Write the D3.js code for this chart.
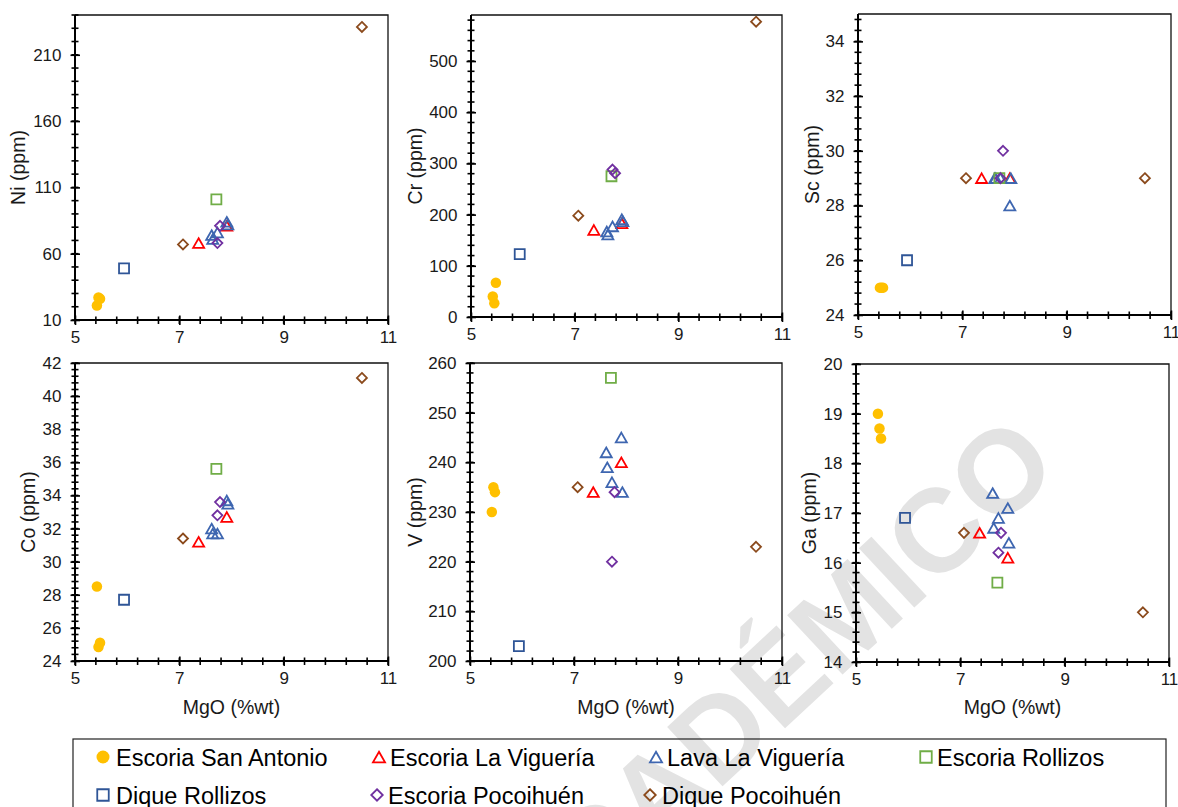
<!DOCTYPE html>
<html lang="es">
<head>
<meta charset="utf-8">
<title>MgO vs elementos traza</title>
<script src="https://cdn.jsdelivr.net/npm/d3@7"></script>
<style>
  body { margin: 0; background: #fff; }
  svg { display: block; }
  text { font-family: "Liberation Sans", Arial, sans-serif; fill: #1a1a1a; }
</style>
</head>
<body>
<svg id="chart" width="1178" height="807"></svg>
<script>
// groups (legend order = drawing order)
var groups = ["Escoria San Antonio", "Escoria La Viguería", "Lava La Viguería", "Escoria Rollizos",
              "Dique Rollizos", "Escoria Pocoihuén", "Dique Pocoihuén"];

// one entry per sample
var sampleGroup = [0, 0, 0, 1, 1, 2, 2, 2, 2, 2, 3, 4, 5, 5, 6, 6];
var mgo = [5.42, 5.45, 5.48, 7.37, 7.91, 7.62, 7.64, 7.73, 7.91, 7.93, 7.71, 5.94, 7.73, 7.78, 7.07, 10.5];
var ni  = [21, 27, 26, 68, 81, 74, 71, 76, 84, 82, 101, 49, 68, 81, 67, 231];
var cr  = [40, 27, 67, 170, 183, 167, 161, 177, 191, 187, 275, 123, 288, 281, 198, 577];
var sc  = [25, 25, 25, 29, 29, 29, 29, 29, 28, 29, 29, 26, 29, 30, 29, 29];
var co  = [28.5, 24.85, 25.1, 31.2, 32.7, 32.0, 31.7, 31.7, 33.7, 33.5, 35.6, 27.7, 32.8, 33.6, 31.4, 41.1];
var v   = [230, 235, 234, 234, 240, 242, 239, 236, 245, 234, 257, 203, 220, 234, 235, 223];
var ga  = [19.0, 18.7, 18.5, 16.6, 16.1, 17.4, 16.7, 16.9, 17.1, 16.4, 15.6, 16.9, 16.2, 16.6, 16.6, 15.0];

// tick labels
var xTicks  = [5, 7, 9, 11];
var niTicks = [10, 60, 110, 160, 210];
var crTicks = [0, 100, 200, 300, 400, 500];
var scTicks = [24, 26, 28, 30, 32, 34];
var coTicks = [24, 26, 28, 30, 32, 34, 36, 38, 40, 42];
var vTicks  = [200, 210, 220, 230, 240, 250, 260];
var gaTicks = [14, 15, 16, 17, 18, 19, 20];

var colors = ["#FFC000", "#FF0000", "#3E66B0", "#70AD47", "#2F5597", "#7030A0", "#8B4A1C"];
var shapes = ["circle", "triangle", "triangle", "square", "square", "diamond", "diamond"];

var panels = [
  {vals: ni, label: "Ni (ppm)", dom: [10, 240], ticks: niTicks, minor: 10,  box: [75, 388, 15, 320],  tx: 18},
  {vals: cr, label: "Cr (ppm)", dom: [0, 590],  ticks: crTicks, minor: 20,  box: [471, 782, 15, 317], tx: 415},
  {vals: sc, label: "Sc (ppm)", dom: [24, 35],  ticks: scTicks, minor: 0.4, box: [858, 1171, 14, 315], tx: 812},
  {vals: co, label: "Co (ppm)", dom: [24, 42],  ticks: coTicks, minor: 0.4, box: [75, 388, 363, 661], tx: 28},
  {vals: v,  label: "V (ppm)",  dom: [200, 260], ticks: vTicks, minor: 2,   box: [470, 782, 363, 661], tx: 415},
  {vals: ga, label: "Ga (ppm)", dom: [14, 20],  ticks: gaTicks, minor: 0.2, box: [856, 1169, 364, 662], tx: 809}
];

var svg = d3.select("#chart");
var fmt = d3.format("~g");

// watermark behind everything
svg.append("text")
    .attr("transform", "translate(768,688) rotate(-43)")
    .attr("text-anchor", "middle")
    .attr("dominant-baseline", "central")
    .attr("font-weight", "bold")
    .attr("font-size", 118)
    .style("fill", "#e3e3e3")
    .text("ACADÉMICO");

function minorValues(dom, step) {
    var out = [];
    for (var k = 0; dom[0] + k * step <= dom[1] + 1e-9; k++) {
        out.push(Math.round((dom[0] + k * step) * 1000) / 1000);
    }
    return out;
}

function drawMarker(sel, shape, color, s) {
    if (shape === "circle") {
        sel.append("circle").attr("r", s * 0.5).attr("fill", color);
        return;
    }
    var p = d3.path(), h = s / 2;
    if (shape === "triangle") {
        p.moveTo(0, -h * 0.92); p.lineTo(h * 1.05, h * 0.92); p.lineTo(-h * 1.05, h * 0.92); p.closePath();
    } else if (shape === "square") {
        p.rect(-h, -h, s, s);
    } else {
        p.moveTo(0, -h); p.lineTo(h, 0); p.lineTo(0, h); p.lineTo(-h, 0); p.closePath();
    }
    sel.append("path").attr("d", p.toString())
        .attr("fill", "none").attr("stroke", color).attr("stroke-width", 1.8)
        .attr("stroke-linejoin", "miter");
}

var markerSize = {circle: 10.5, triangle: 10.5, square: 10, diamond: 10};

panels.forEach(function (p) {
    var x0 = p.box[0], x1 = p.box[1], y0 = p.box[2], y1 = p.box[3];
    var x = d3.scaleLinear().domain([5, 11]).range([x0, x1]);
    var y = d3.scaleLinear().domain(p.dom).range([y1, y0]);
    var g = svg.append("g");

    // frame (top and right)
    g.append("path")
        .attr("d", "M" + x0 + "," + y0 + "H" + x1 + "V" + y1)
        .attr("fill", "none").attr("stroke", "#111").attr("stroke-width", 1.3);

    // minor ticks (cross the axis)
    g.append("g").selectAll("line")
        .data(minorValues(p.dom, p.minor))
        .enter().append("line")
        .attr("x1", x0 - 3.5).attr("x2", x0 + 3.5)
        .attr("y1", function (d) { return y(d); })
        .attr("y2", function (d) { return y(d); })
        .attr("stroke", "#000").attr("stroke-width", 1.6);
    g.append("g").selectAll("line")
        .data(minorValues([5, 11], 0.4))
        .enter().append("line")
        .attr("x1", function (d) { return x(d); })
        .attr("x2", function (d) { return x(d); })
        .attr("y1", y1 - 3.5).attr("y2", y1 + 4)
        .attr("stroke", "#000").attr("stroke-width", 1.6);

    // major ticks and labels
    g.append("g").attr("transform", "translate(" + x0 + ",0)")
        .call(d3.axisLeft(y).tickValues(p.ticks).tickSize(4.5).tickPadding(9).tickFormat(fmt))
        .call(function (a) {
            a.select(".domain").attr("stroke", "#000").attr("stroke-width", 2).attr("d", "M0," + y1 + "V" + y0);
            a.selectAll(".tick line").attr("x1", 5).attr("stroke", "#000").attr("stroke-width", 1.6);
            a.selectAll(".tick text").attr("font-size", 17).style("fill", "#1a1a1a");
        });
    g.append("g").attr("transform", "translate(0," + y1 + ")")
        .call(d3.axisBottom(x).tickValues(xTicks).tickSize(5).tickPadding(6).tickFormat(fmt))
        .call(function (a) {
            a.select(".domain").attr("stroke", "#000").attr("stroke-width", 2).attr("d", "M" + x0 + ",0H" + x1);
            a.selectAll(".tick line").attr("y1", -4.5).attr("stroke", "#000").attr("stroke-width", 1.6);
            a.selectAll(".tick text").attr("font-size", 17).style("fill", "#1a1a1a");
        });

    // y title
    g.append("text")
        .attr("transform", "translate(" + p.tx + "," + ((y0 + y1) / 2) + ") rotate(-90)")
        .attr("text-anchor", "middle").attr("dominant-baseline", "central")
        .attr("font-size", 19.5)
        .text(p.label);

    // x title on the bottom row
    if (y0 > 300) {
        g.append("text")
            .attr("x", (x0 + x1) / 2).attr("y", 714)
            .attr("text-anchor", "middle").attr("font-size", 19.5)
            .text("MgO (%wt)");
    }

    // points
    var pts = mgo.map(function (m, i) { return {m: m, val: p.vals[i], grp: sampleGroup[i]}; });
    g.append("g").selectAll("g.pt")
        .data(pts)
        .enter().append("g")
        .attr("class", "pt")
        .attr("transform", function (d) { return "translate(" + x(d.m) + "," + y(d.val) + ")"; })
        .each(function (d) {
            var sh = shapes[d.grp];
            drawMarker(d3.select(this), sh, colors[d.grp], markerSize[sh]);
        });
});

// legend
var legPos = [[103, 757, 116], [379, 757, 390], [656, 757, 667], [926, 757, 937],
              [103, 795, 116], [377, 795, 388], [650, 795, 662]];
svg.append("rect")
    .attr("x", 73).attr("y", 739).attr("width", 1093).attr("height", 90)
    .attr("fill", "none").attr("stroke", "#222").attr("stroke-width", 1.2);

var leg = svg.append("g").selectAll("g")
    .data(groups)
    .enter().append("g");
leg.each(function (name, i) {
    var lp = legPos[i];
    var m = d3.select(this).append("g").attr("transform", "translate(" + lp[0] + "," + lp[1] + ")");
    drawMarker(m, shapes[i], colors[i], shapes[i] === "circle" ? 13 : 11.5);
    d3.select(this).append("text")
        .attr("x", lp[2]).attr("y", lp[1] + 8.5)
        .attr("font-size", 23.5)
        .style("fill", "#000")
        .text(name);
});
</script>
</body>
</html>
